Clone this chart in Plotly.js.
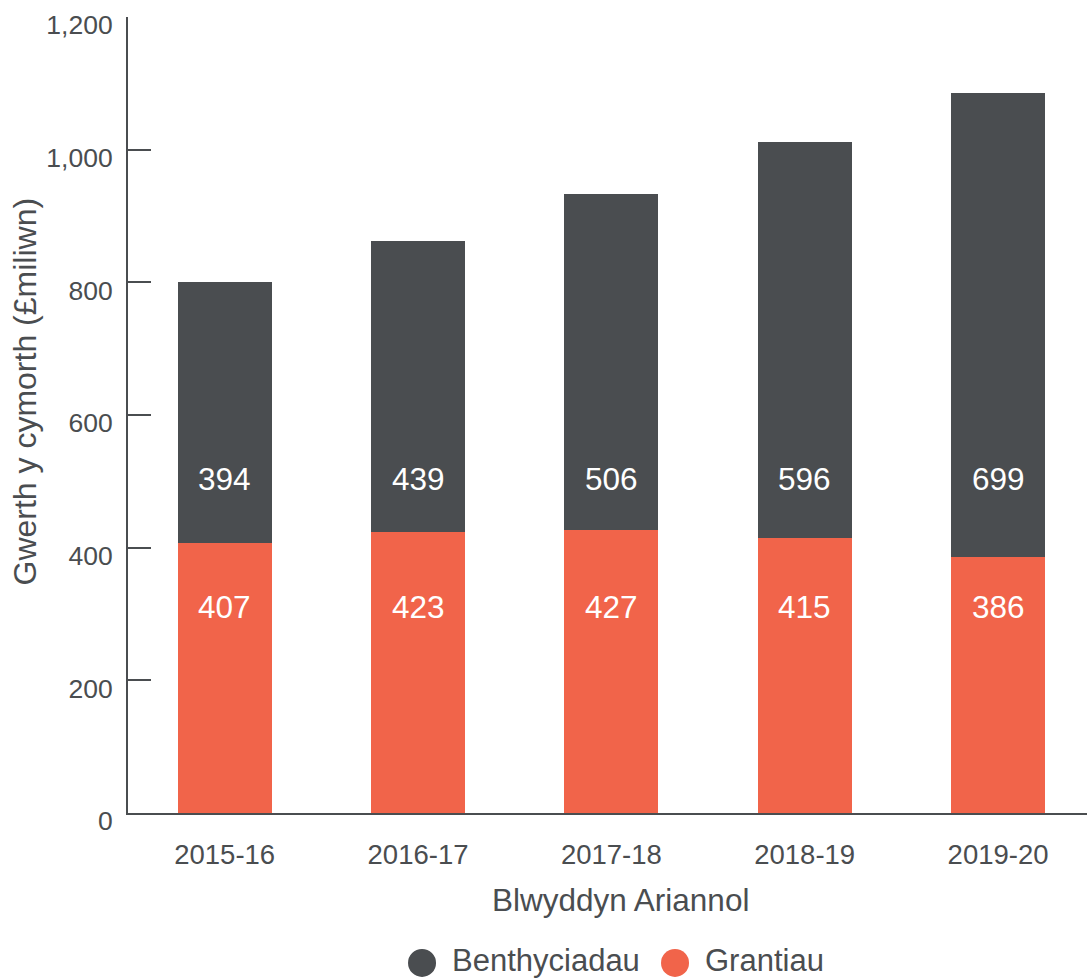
<!DOCTYPE html>
<html>
<head>
<meta charset="utf-8">
<script src="https://cdn.plot.ly/plotly-3.0.1.min.js"></script>
<style>
  html, body { margin: 0; padding: 0; background: #fff; }
  #chart { width: 1087px; height: 979px; }
</style>
</head>
<body>
<div id="chart"></div>
<script>
// data
const years = ['2015-16', '2016-17', '2017-18', '2018-19', '2019-20'];
const grantiau = [407, 423, 427, 415, 386];
const benthyciadau = [394, 439, 506, 596, 699];
const seriesNames = ['Benthyciadau', 'Grantiau'];

const DARK = '#4a4d50';
const ORANGE = '#f1644a';
const TEXT = '#4a4d50';
const FONT = 'Liberation Sans, Arial, sans-serif';

// value labels sit at a fixed height inside each bar segment
const labelYLoans = 504;
const labelYGrants = 311;

const traces = [
    {
        x: years,
        y: grantiau,
        type: 'bar',
        name: 'Grantiau',
        marker: { color: ORANGE },
        hoverinfo: 'x+y+name'
    },
    {
        x: years,
        y: benthyciadau,
        type: 'bar',
        name: 'Benthyciadau',
        marker: { color: DARK },
        hoverinfo: 'x+y+name'
    }
];

const annotations = [];
years.forEach((yr, i) => {
    annotations.push({
        x: yr, y: labelYLoans, xref: 'x', yref: 'y',
        text: String(benthyciadau[i]), showarrow: false,
        font: { family: FONT, size: 31.5, color: '#ffffff' }
    });
    annotations.push({
        x: yr, y: labelYGrants, xref: 'x', yref: 'y',
        text: String(grantiau[i]), showarrow: false,
        font: { family: FONT, size: 31.5, color: '#ffffff' }
    });
});

// axis titles, placed by hand
annotations.push({
    x: -0.107, y: 0.53, xref: 'paper', yref: 'paper',
    text: 'Gwerth y cymorth (£miliwn)', showarrow: false,
    textangle: -90,
    xanchor: 'center', yanchor: 'middle',
    font: { family: FONT, size: 32, color: TEXT }
});
annotations.push({
    x: 0.514, y: -0.1093, xref: 'paper', yref: 'paper',
    text: 'Blwyddyn Ariannol', showarrow: false,
    xanchor: 'center', yanchor: 'middle',
    font: { family: FONT, size: 31.5, color: TEXT }
});

// legend drawn by hand so the circles can be as big as in the original
const legendColors = [DARK, ORANGE];
const legendCircleX = [0.3066, 0.5704];
const legendTextX = [0.336, 0.600];
const legendY = -0.1848;
const shapes = [];
seriesNames.forEach((nm, i) => {
    shapes.push({
        type: 'circle',
        xref: 'paper', yref: 'paper',
        xsizemode: 'pixel', ysizemode: 'pixel',
        xanchor: legendCircleX[i], yanchor: -0.1884,
        x0: -14, x1: 14, y0: -14, y1: 14,
        fillcolor: legendColors[i],
        line: { width: 0 }
    });
    annotations.push({
        x: legendTextX[i], y: legendY, xref: 'paper', yref: 'paper',
        text: nm, showarrow: false,
        xanchor: 'left', yanchor: 'middle',
        font: { family: FONT, size: 31, color: TEXT }
    });
});

const layout = {
    width: 1087,
    height: 979,
    margin: { l: 128, r: 0, t: 17, b: 166 },
    paper_bgcolor: '#ffffff',
    plot_bgcolor: '#ffffff',
    font: { family: FONT, color: TEXT },
    barmode: 'stack',
    bargap: 0.514,
    showlegend: false,
    xaxis: {
        type: 'category',
        range: [-0.5, 4.46],
        automargin: false,
        showline: true,
        linecolor: TEXT,
        linewidth: 2,
        ticks: '',
        showgrid: false,
        zeroline: false,
        tickfont: { family: FONT, size: 27.5, color: TEXT },
        ticklabelstandoff: 16
    },
    yaxis: {
        range: [0, 1200],
        dtick: 200,
        tickformat: ',d',
        automargin: false,
        showline: true,
        linecolor: TEXT,
        linewidth: 2,
        ticks: 'inside',
        ticklen: 23,
        tickwidth: 2,
        tickcolor: TEXT,
        showgrid: false,
        zeroline: false,
        ticklabelshift: 8,
        ticklabelstandoff: 8,
        ticklabeloverflow: 'allow',
        tickfont: { family: FONT, size: 26.5, color: TEXT }
    },
    shapes: shapes,
    annotations: annotations
};

Plotly.newPlot('chart', traces, layout, { displayModeBar: false, staticPlot: true });
</script>
</body>
</html>
